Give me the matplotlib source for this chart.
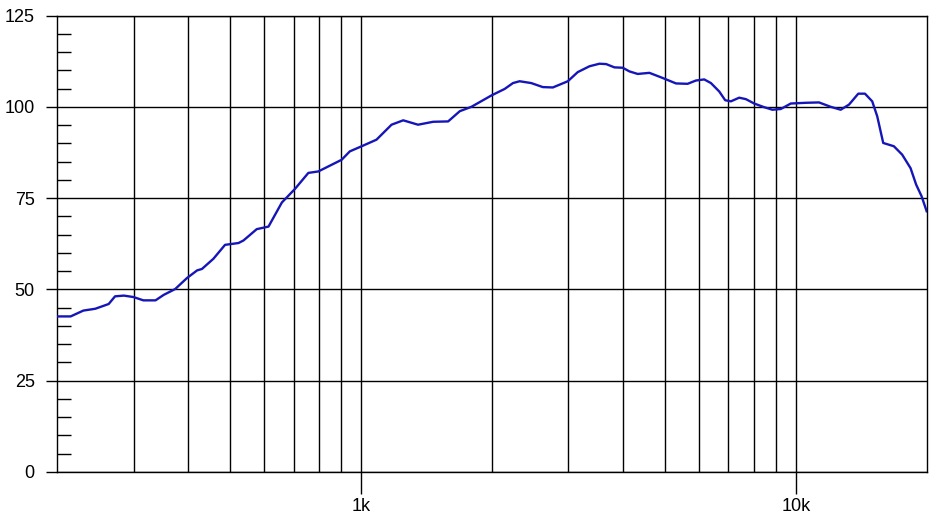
import numpy as np
import matplotlib.pyplot as plt
from matplotlib.ticker import FixedLocator, NullFormatter

plt.rcParams['font.family'] = ['Liberation Sans', 'DejaVu Sans']

# Frequency response (Hz, dB)
freq = [200, 215, 230, 245, 263, 272, 285, 300, 316, 337, 352, 374, 398, 420, 431,
        458, 487, 523, 537, 576, 613, 658, 705, 757, 798, 903, 943, 1004, 1086, 1176,
        1251, 1353, 1466, 1587, 1688, 1795, 1995, 2141, 2237, 2317, 2464, 2620, 2763,
        2991, 3152, 3354, 3536, 3664, 3828, 4000, 4144, 4330, 4607, 4941, 5304, 5640,
        5895, 6159, 6381, 6668, 6882, 7093, 7412, 7679, 8024, 8458, 8837, 9238, 9739,
        10543, 11310, 12032, 12685, 13256, 13924, 14425, 14990, 15393, 15890, 16812,
        17567, 18365, 18916, 19470, 20000]
level = [42.6, 42.6, 44.2, 44.7, 46.0, 48.1, 48.3, 47.9, 47.0, 47.0, 48.5, 50.1, 53.1,
         55.2, 55.6, 58.4, 62.2, 62.7, 63.4, 66.5, 67.2, 73.8, 77.5, 81.9, 82.3, 85.5,
         87.8, 89.2, 91.0, 95.1, 96.3, 95.1, 95.9, 96.0, 98.8, 100.0, 103.1, 104.9,
         106.5, 107.0, 106.5, 105.4, 105.3, 107.0, 109.5, 111.1, 111.8, 111.7, 110.8,
         110.7, 109.7, 109.0, 109.3, 107.9, 106.4, 106.3, 107.2, 107.5, 106.5, 104.2,
         101.8, 101.5, 102.5, 102.1, 100.9, 99.9, 99.2, 99.4, 100.9, 101.1, 101.2,
         100.0, 99.2, 100.6, 103.6, 103.6, 101.5, 97.4, 90.1, 89.2, 86.9, 83.2, 78.7,
         75.5, 71.4]

x_major = [1000, 10000]
x_labels = ["1k", "10k"]
x_grid = [300, 400, 500, 600, 700, 800, 900,
          2000, 3000, 4000, 5000, 6000, 7000, 8000, 9000]
y_major = [0, 25, 50, 75, 100, 125]


def main():
    fig = plt.figure(figsize=(9.48, 5.19), dpi=100)
    ax = fig.add_axes([0.0601, 0.0906, 0.9174, 0.8795])

    ax.plot(freq, level, color="#1616b8", linewidth=1.7, zorder=3)

    ax.set_xscale("log")
    ax.set_xlim(200, 20000)
    ax.set_ylim(0, 125)

    # x: labelled decades, plain grid lines in between
    ax.xaxis.set_major_locator(FixedLocator(x_major))
    ax.set_xticklabels(x_labels)
    ax.xaxis.set_minor_locator(FixedLocator(x_grid))
    ax.xaxis.set_minor_formatter(NullFormatter())
    ax.tick_params(axis="x", which="major", direction="out", length=16, width=1,
                   labelsize=13, pad=3)
    ax.tick_params(axis="x", which="minor", length=0)

    # y: major every 25, small inward ticks every 5
    ax.set_yticks(y_major)
    ax.yaxis.set_minor_locator(FixedLocator([v for v in range(5, 125, 5) if v % 25]))
    ax.tick_params(axis="y", which="major", direction="out", length=8, width=1,
                   labelsize=13, pad=8)
    ax.tick_params(axis="y", which="minor", direction="in", length=10, width=1)

    ax.grid(which="major", color="black", linewidth=1)
    ax.grid(which="minor", axis="x", color="black", linewidth=1)
    ax.set_axisbelow(True)

    for s in ax.spines.values():
        s.set_color("black")
        s.set_linewidth(1)

    fig.savefig("out.png", dpi=100)


if __name__ == "__main__":
    main()
